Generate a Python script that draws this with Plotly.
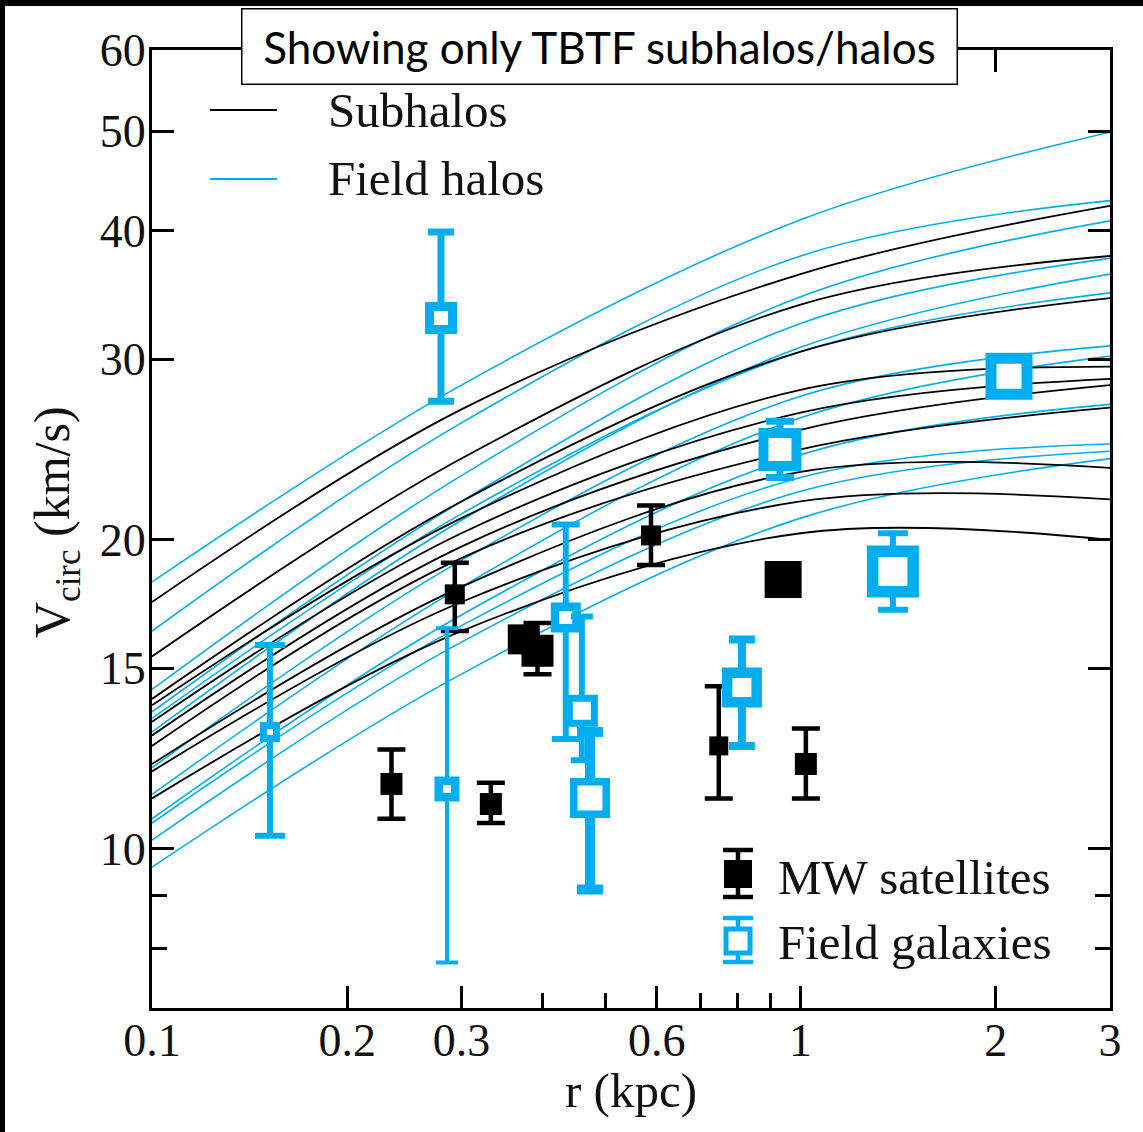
import plotly.graph_objects as go

# ---------------- data ----------------
r_grid = [0.1, 0.3, 1.0, 3.0]  # kpc, sample radii of the rotation curves

subhalo_v = [
    [17.4, 26.8, 36.3, 42.3],
    [15.4, 24.0, 33.9, 37.8],
    [14.0, 21.8, 30.5, 34.4],
    [13.8, 21.0, 28.0, 29.5],
    [13.3, 20.3, 26.6, 28.7],
    [12.9, 19.7, 25.6, 28.3],
    [12.6, 19.2, 24.5, 26.9],
    [12.1, 18.0, 23.3, 23.5],
    [11.9, 17.4, 21.8, 21.9],
    [11.2, 16.3, 20.3, 20.0],
]

field_halo_v = [
    [18.2, 28.3, 41.0, 49.9],
    [16.3, 26.0, 37.8, 42.8],
    [14.3, 23.1, 34.5, 40.9],
    [13.6, 21.8, 32.5, 37.6],
    [13.0, 20.9, 30.8, 36.3],
    [13.4, 21.2, 30.5, 34.8],
    [12.0, 19.1, 27.6, 30.9],
    [11.3, 18.0, 26.3, 30.2],
    [10.7, 16.9, 24.2, 27.1],
    [10.6, 16.5, 23.0, 24.8],
    [10.2, 15.9, 22.3, 24.4],
    [9.6, 14.8, 21.0, 24.0],
]

mw_r = [0.234, 0.293, 0.333, 0.373, 0.393, 0.588, 0.748, 0.940, 1.019]
mw_v = [11.57, 17.7, 11.06, 16.0, 15.6, 20.2, 12.6, 18.3, 12.1]
mw_hi = [12.5, 19.0, 11.6, None, 16.6, 21.6, 14.4, None, 13.1]
mw_lo = [10.7, 16.3, 10.6, None, 14.8, 18.9, 11.2, None, 11.2]

fg_r = [0.152, 0.279, 0.285, 0.4345, 0.46, 0.4735, 0.812, 0.9295, 1.388, 2.096]
fg_v = [13.0, 32.9, 11.44, 16.8, 13.63, 11.21, 14.36, 24.5, 18.63, 28.86]
fg_hi = [15.8, 39.9, 16.4, 20.7, 16.84, 13.0, 16.0, 26.1, 20.3, None]
fg_lo = [10.3, 27.3, 7.75, 12.8, 12.2, 9.13, 12.6, 23.0, 17.1, None]

x_tickvals = [0.1, 0.2, 0.3, 0.6, 1, 2, 3]
x_ticktext = ["0.1", "0.2", "0.3", "0.6", "1", "2", "3"]
x_minor = [0.4, 0.5, 0.7, 0.8, 0.9]
y_tickvals = [10, 15, 20, 30, 40, 50, 60]
y_ticktext = ["10", "15", "20", "30", "40", "50", "60"]
y_minor = [8, 9]

# ---------------- styles ----------------
BLUE = "#00AEEF"
BLACK = "#000000"
SERIF = "Liberation Serif, Times New Roman, serif"

mw_size = [22, 20, 22, 30, 32, 20, 19, 37, 22]
mw_err_thick = 4.5
mw_err_cap = 14

fg_size = [13, 23, 16.5, 21.5, 25, 32.5, 29.5, 33, 40.5, 36]
fg_lw = [7, 9, 8.5, 8.5, 7, 7.5, 10.5, 10, 11.5, 11]
fg_err_thick = [6, 7, 4, 6, 6, 10, 8, 7, 6, 0]
fg_err_cap = [15, 13, 11, 14, 11, 13, 13, 14, 15, 0]

fig = go.Figure()

# rotation curves
for v in field_halo_v:
    fig.add_trace(go.Scatter(x=r_grid, y=v, mode="lines",
                             line=dict(color=BLUE, width=1.6, shape="spline", smoothing=1.0),
                             showlegend=False, hoverinfo="skip"))
for v in subhalo_v:
    fig.add_trace(go.Scatter(x=r_grid, y=v, mode="lines",
                             line=dict(color=BLACK, width=1.8, shape="spline", smoothing=1.0),
                             showlegend=False, hoverinfo="skip"))

# MW satellites
for i in range(len(mw_r)):
    err = dict(visible=False)
    if mw_hi[i] is not None:
        err = dict(type="data", symmetric=False,
                   array=[mw_hi[i] - mw_v[i]], arrayminus=[mw_v[i] - mw_lo[i]],
                   color=BLACK, thickness=mw_err_thick, width=mw_err_cap)
    fig.add_trace(go.Scatter(x=[mw_r[i]], y=[mw_v[i]], mode="markers",
                             marker=dict(symbol="square", size=mw_size[i], color=BLACK,
                                         line=dict(width=0)),
                             error_y=err, showlegend=False))

# Field galaxies
for i in range(len(fg_r)):
    err = dict(visible=False)
    if fg_hi[i] is not None:
        err = dict(type="data", symmetric=False,
                   array=[fg_hi[i] - fg_v[i]], arrayminus=[fg_v[i] - fg_lo[i]],
                   color=BLUE, thickness=fg_err_thick[i], width=fg_err_cap[i])
    fig.add_trace(go.Scatter(x=[fg_r[i]], y=[fg_v[i]], mode="markers",
                             marker=dict(symbol="square", size=fg_size[i], color="white",
                                         line=dict(width=fg_lw[i], color=BLUE)),
                             error_y=err, showlegend=False))

# ---------------- layout ----------------
L, R, T, B = 152, 33, 50, 124
W, H = 1143, 1132
PW, PH = W - L - R, H - T - B


def px(xp):
    return (xp - L) / PW


def py(yp):
    return (H - B - yp) / PH


axis_common = dict(
    showline=True, linecolor=BLACK, linewidth=3, mirror="ticks",
    ticks="inside", ticklen=22, tickwidth=3, tickcolor=BLACK,
    showgrid=False, zeroline=False,
    tickfont=dict(family=SERIF, size=46, color="#111111"),
)

fig.update_layout(
    width=W, height=H, autosize=False,
    margin=dict(l=L, r=R, t=T, b=B, pad=0),
    paper_bgcolor="white", plot_bgcolor="white",
    showlegend=False,
    xaxis=dict(type="log", range=[-1, 0.47712], tickvals=x_tickvals, ticktext=x_ticktext,
               minor=dict(tickvals=x_minor, ticks="inside", ticklen=15, tickwidth=3,
                          tickcolor=BLACK, showgrid=False),
               ticklabelstandoff=-10, **axis_common),
    yaxis=dict(type="log", range=[0.845098, 1.778151], tickvals=y_tickvals, ticktext=y_ticktext,
               minor=dict(tickvals=y_minor, ticks="inside", ticklen=15, tickwidth=3,
                          tickcolor=BLACK, showgrid=False),
               ticklabelstandoff=-6, **axis_common),
)

shapes = []
# black frame strips of the image (top and left)
shapes.append(dict(type="rect", xref="paper", yref="paper", x0=px(0), x1=px(W), y0=py(6), y1=py(0),
                   fillcolor=BLACK, line=dict(width=0), layer="above"))
shapes.append(dict(type="rect", xref="paper", yref="paper", x0=px(0), x1=px(5), y0=py(H), y1=py(0),
                   fillcolor=BLACK, line=dict(width=0), layer="above"))

# top-left legend lines
shapes.append(dict(type="line", xref="paper", yref="paper", x0=px(210), x1=px(277), y0=py(110), y1=py(110),
                   line=dict(color=BLACK, width=1.8)))
shapes.append(dict(type="line", xref="paper", yref="paper", x0=px(210), x1=px(277), y0=py(179), y1=py(179),
                   line=dict(color=BLUE, width=1.8)))

# bottom-right legend symbols: MW satellites
cx = 738
shapes.append(dict(type="line", xref="paper", yref="paper", x0=px(cx), x1=px(cx), y0=py(850), y1=py(897),
                   line=dict(color=BLACK, width=4.5)))
for yy in (850, 897):
    shapes.append(dict(type="line", xref="paper", yref="paper", x0=px(cx - 15), x1=px(cx + 15), y0=py(yy), y1=py(yy),
                       line=dict(color=BLACK, width=4.5)))
shapes.append(dict(type="rect", xref="paper", yref="paper", x0=px(cx - 14), x1=px(cx + 14), y0=py(888), y1=py(860),
                   fillcolor=BLACK, line=dict(width=0)))
# Field galaxies
shapes.append(dict(type="line", xref="paper", yref="paper", x0=px(cx), x1=px(cx), y0=py(918), y1=py(962),
                   line=dict(color=BLUE, width=4.5)))
for yy in (918, 962):
    shapes.append(dict(type="line", xref="paper", yref="paper", x0=px(cx - 15), x1=px(cx + 15), y0=py(yy), y1=py(yy),
                       line=dict(color=BLUE, width=4.5)))
shapes.append(dict(type="rect", xref="paper", yref="paper", x0=px(cx - 12), x1=px(cx + 12), y0=py(953), y1=py(929),
                   fillcolor="white", line=dict(color=BLUE, width=5)))
fig.update_layout(shapes=shapes)

ann = []
leg_font = dict(family=SERIF, size=49, color="#111111")
ann.append(dict(text="Subhalos", xref="paper", yref="paper", x=px(326), y=py(110),
                xanchor="left", yanchor="middle", showarrow=False, font=leg_font))
ann.append(dict(text="Field halos", xref="paper", yref="paper", x=px(326), y=py(178),
                xanchor="left", yanchor="middle", showarrow=False, font=leg_font))
ann.append(dict(text="MW satellites", xref="paper", yref="paper", x=px(776), y=py(877),
                xanchor="left", yanchor="middle", showarrow=False, font=leg_font))
ann.append(dict(text="Field galaxies", xref="paper", yref="paper", x=px(776), y=py(942),
                xanchor="left", yanchor="middle", showarrow=False, font=leg_font))
# axis titles
ann.append(dict(text="r (kpc)", xref="paper", yref="paper", x=px(631), y=py(1090),
                xanchor="center", yanchor="middle", showarrow=False,
                font=dict(family=SERIF, size=49, color="#111111")))
ann.append(dict(text="V<sub>circ</sub> (km/s)", xref="paper", yref="paper", x=px(56), y=py(522),
                xanchor="center", yanchor="middle", showarrow=False, textangle=-90,
                font=dict(family=SERIF, size=50, color="#111111")))
# title box
ann.append(dict(text="Showing only TBTF subhalos/halos", xref="paper", yref="paper",
                x=px(599.5), y=py(46.5), xanchor="center", yanchor="middle", showarrow=False,
                width=714, height=74, align="center", valign="middle",
                bgcolor="white", bordercolor=BLACK, borderwidth=1.5, borderpad=0,
                font=dict(family="Lato, Open Sans, sans-serif", size=44, color=BLACK)))
fig.update_layout(annotations=ann)

fig.write_html("out.html")
